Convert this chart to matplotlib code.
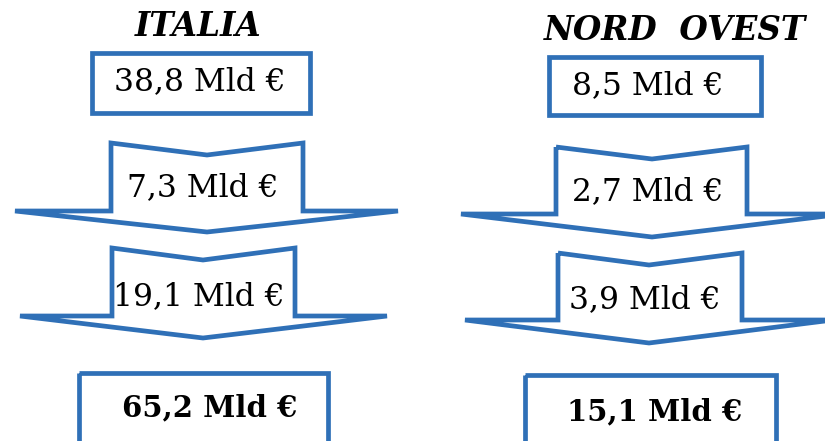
import matplotlib
matplotlib.use("Agg")
import matplotlib.pyplot as plt
from matplotlib.patches import Polygon, Rectangle

# ---- data ----
regions = ["ITALIA", "NORD  OVEST"]
start_values = [38.8, 8.5]
step1_values = [7.3, 2.7]
step2_values = [19.1, 3.9]
total_values = [65.2, 15.1]
unit = "Mld €"

BLUE = "#2F70B7"
W, H = 825, 441

def fmt(v):
    return f"{v:.1f}".replace(".", ",") + " " + unit

fig = plt.figure(figsize=(W / 100, H / 100), dpi=100)
ax = fig.add_axes([0, 0, 1, 1])
ax.set_xlim(0, W)
ax.set_ylim(H, 0)
ax.axis("off")

LW = 3.4  # points (~4.7 px)

# layout per column (pixel coordinates, y from top)
layout = [
    dict(title=(198, 27), box=(92, 53, 310, 113), text1=(200, 82),
         arrows=[dict(sl=111, sr=303, top=143, notch=155, wing=211, wl=15, wr=398, tip=232, cx=207, ty=188),
                 dict(sl=112, sr=295, top=248, notch=260, wing=316, wl=20, wr=387, tip=338, cx=203, ty=297)],
         fbox=(79, 373, 328, 450), ftext=(210, 408)),
    dict(title=(675, 31), box=(549, 57, 761, 115), text1=(648, 86),
         arrows=[dict(sl=556, sr=747, top=147, notch=159, wing=214, wl=461, wr=843, tip=237, cx=652, ty=192),
                 dict(sl=558, sr=742, top=253, notch=265, wing=320, wl=465, wr=833, tip=343, cx=649, ty=300)],
         fbox=(525, 375, 776, 450), ftext=(655, 412)),
]

steps = [step1_values, step2_values]

for i, region in enumerate(regions):
    L = layout[i]
    ax.text(*L["title"], region, ha="center", va="center", fontsize=23.5,
            family="DejaVu Serif", fontweight="bold", fontstyle="italic", color="black")
    x0, y0, x1, y1 = L["box"]
    ax.add_patch(Rectangle((x0, y0), x1 - x0, y1 - y0, fill=False, edgecolor=BLUE, lw=LW))
    ax.text(*L["text1"], fmt(start_values[i]), ha="center", va="center",
            fontsize=22.5, family="DejaVu Serif", color="black")
    for a, vals in zip(L["arrows"], steps):
        pts = [(a["sl"], a["top"]), (a["cx"], a["notch"]), (a["sr"], a["top"]),
               (a["sr"], a["wing"]), (a["wr"], a["wing"]), (a["cx"], a["tip"]),
               (a["wl"], a["wing"]), (a["sl"], a["wing"])]
        ax.add_patch(Polygon(pts, closed=True, fill=False, edgecolor=BLUE, lw=LW,
                             joinstyle="miter"))
        ax.text(a["cx"] - 4, a["ty"], fmt(vals[i]), ha="center", va="center",
                fontsize=22.5, family="DejaVu Serif", color="black")
    x0, y0, x1, y1 = L["fbox"]
    ax.add_patch(Rectangle((x0, y0), x1 - x0, y1 - y0, fill=False, edgecolor=BLUE, lw=LW))
    ax.text(*L["ftext"], fmt(total_values[i]), ha="center", va="center",
            fontsize=21, family="DejaVu Serif", fontweight="bold", color="black")

fig.savefig("out.png", dpi=100)
